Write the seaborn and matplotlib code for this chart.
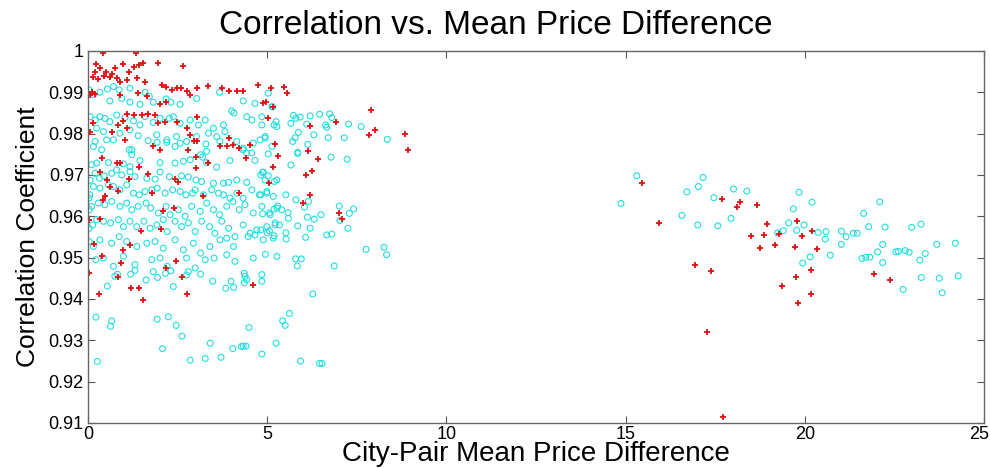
import pandas as pd
import matplotlib
matplotlib.use("Agg")
import matplotlib.pyplot as plt
import matplotlib.transforms as mtransforms
import seaborn as sns

# circles (cyan), small price differences
circles_top = [
    (0.03, 0.9906), (0.15, 0.9894), (0.33, 0.9900), (0.54, 0.9908), (0.71, 0.9914), (0.87, 0.9906),
    (1.17, 0.9910), (1.59, 0.9900), (1.71, 0.9890), (0.61, 0.9879), (0.94, 0.9885), (1.17, 0.9876),
    (1.45, 0.9871), (1.82, 0.9876), (2.18, 0.9884), (2.31, 0.9876), (2.57, 0.9871), (3.03, 0.9885),
    (3.67, 0.9900), (5.03, 0.9898), (4.33, 0.9879), (4.01, 0.9855), (4.07, 0.9850), (4.66, 0.9873),
    (5.15, 0.9865), (0.06, 0.9841), (0.20, 0.9833), (0.33, 0.9841), (0.47, 0.9837), (0.61, 0.9829),
    (0.80, 0.9845), (1.03, 0.9839), (1.27, 0.9831), (1.45, 0.9821), (1.59, 0.9841), (1.82, 0.9827),
    (2.01, 0.9837), (2.27, 0.9837), (2.38, 0.9841), (2.57, 0.9825), (2.85, 0.9833), (3.08, 0.9821),
    (3.27, 0.9833), (3.50, 0.9813), (3.78, 0.9821), (4.43, 0.9841), (4.57, 0.9833), (4.85, 0.9821),
    (0.24, 0.9813), (0.43, 0.9805), (0.71, 0.9785), (0.89, 0.9801), (1.17, 0.9809), (1.40, 0.9795),
    (1.68, 0.9783), (1.92, 0.9797), (2.20, 0.9785), (2.47, 0.9793), (2.75, 0.9781), (3.03, 0.9793),
    (3.36, 0.9801), (3.59, 0.9793), (3.82, 0.9805), (4.15, 0.9781), (4.33, 0.9765), (4.61, 0.9777),
    (4.94, 0.9793), (5.13, 0.9769), (0.15, 0.9769), (0.38, 0.9761), (1.22, 0.9761), (2.43, 0.9769),
    (3.31, 0.9757),
]

circles_mid = [
    (0.20, 0.9781), (0.52, 0.9785), (1.15, 0.9761), (1.22, 0.9749), (1.93, 0.9779), (2.20, 0.9779),
    (2.57, 0.9777), (3.29, 0.9775), (3.68, 0.9781), (4.43, 0.9753), (4.57, 0.9753), (4.80, 0.9785),
    (0.10, 0.9725), (0.24, 0.9729), (0.57, 0.9730), (0.99, 0.9727), (1.17, 0.9720), (1.45, 0.9735),
    (2.01, 0.9730), (2.43, 0.9729), (2.66, 0.9733), (2.85, 0.9737), (3.14, 0.9749), (3.20, 0.9743),
    (3.31, 0.9730), (3.59, 0.9719), (3.96, 0.9735), (4.32, 0.9761), (4.66, 0.9735), (5.03, 0.9751),
    (0.06, 0.9687), (0.20, 0.9704), (0.32, 0.9692), (0.45, 0.9698), (0.66, 0.9704), (0.80, 0.9712),
    (0.94, 0.9700), (1.17, 0.9708), (1.31, 0.9696), (1.64, 0.9692), (1.87, 0.9690), (2.01, 0.9707),
    (2.27, 0.9696), (2.61, 0.9698), (2.80, 0.9695), (3.01, 0.9688), (3.17, 0.9684), (3.50, 0.9680),
    (3.78, 0.9680), (3.92, 0.9682), (4.15, 0.9688), (4.43, 0.9682), (4.87, 0.9706), (4.94, 0.9688),
    (5.27, 0.9688), (0.15, 0.9672), (0.33, 0.9668), (0.57, 0.9676), (0.71, 0.9672), (0.89, 0.9664),
    (1.08, 0.9676), (1.27, 0.9656), (1.43, 0.9652), (1.59, 0.9660), (1.78, 0.9664), (1.93, 0.9668),
    (2.15, 0.9656), (2.36, 0.9664), (2.57, 0.9660), (2.73, 0.9652), (2.92, 0.9656), (2.99, 0.9664),
    (3.22, 0.9652), (3.45, 0.9664), (3.64, 0.9656), (3.78, 0.9652), (3.96, 0.9644), (4.15, 0.9656),
    (4.33, 0.9644), (4.57, 0.9664), (4.78, 0.9652), (4.99, 0.9660), (5.17, 0.9648), (0.03, 0.9644),
    (0.05, 0.9652), (0.04, 0.9616), (0.10, 0.9624), (0.29, 0.9632), (0.47, 0.9628), (0.66, 0.9636),
    (0.89, 0.9624), (1.08, 0.9632), (1.22, 0.9616), (1.40, 0.9624), (1.62, 0.9632), (1.75, 0.9620),
    (1.96, 0.9608), (2.18, 0.9624), (2.29, 0.9604), (2.52, 0.9616), (2.71, 0.9600), (2.89, 0.9624),
    (3.13, 0.9612), (3.31, 0.9632), (3.50, 0.9616), (3.67, 0.9604), (3.87, 0.9624), (4.04, 0.9636),
    (4.22, 0.9616), (4.38, 0.9628), (4.61, 0.9608), (4.85, 0.9624), (5.08, 0.9604), (5.27, 0.9620),
    (0.03, 0.9571), (0.13, 0.9579), (0.24, 0.9592), (0.43, 0.9588), (0.63, 0.9584), (0.85, 0.9592),
    (0.99, 0.9575), (1.17, 0.9588), (1.36, 0.9575), (1.56, 0.9588), (1.73, 0.9571), (1.92, 0.9579),
    (2.10, 0.9592), (2.21, 0.9563), (2.43, 0.9588), (2.61, 0.9575), (2.80, 0.9584), (2.99, 0.9563),
    (3.17, 0.9588), (3.39, 0.9575), (3.54, 0.9559), (3.73, 0.9588), (3.92, 0.9571), (4.10, 0.9551),
    (4.33, 0.9579), (4.52, 0.9559), (4.71, 0.9567), (4.99, 0.9575), (5.22, 0.9584), (0.03, 0.9539),
    (0.15, 0.9527), (0.33, 0.9543), (0.66, 0.9535), (0.87, 0.9551), (1.08, 0.9539), (1.36, 0.9527),
    (1.64, 0.9535), (1.87, 0.9539), (2.10, 0.9523), (2.43, 0.9543), (2.66, 0.9519), (2.94, 0.9535),
    (3.14, 0.9511), (3.40, 0.9527), (3.68, 0.9543), (3.87, 0.9547), (4.06, 0.9527), (4.47, 0.9551),
    (4.66, 0.9555), (4.89, 0.9543), (5.17, 0.9547), (0.22, 0.9495), (0.43, 0.9499), (0.71, 0.9479),
    (0.99, 0.9503), (1.31, 0.9483), (1.78, 0.9495), (2.01, 0.9499), (2.21, 0.9479), (2.75, 0.9499),
    (2.99, 0.9475), (3.27, 0.9495), (3.52, 0.9499), (3.87, 0.9507), (4.10, 0.9491), (4.38, 0.9455),
    (4.61, 0.9499), (4.85, 0.9459), (5.27, 0.9503),
]

circles_low = [
    (0.54, 0.9431), (0.75, 0.9455), (0.82, 0.9460), (1.19, 0.9460), (1.31, 0.9469), (1.62, 0.9446),
    (1.82, 0.9466), (1.94, 0.9452), (2.16, 0.9462), (2.31, 0.9468), (2.38, 0.9430), (2.75, 0.9458),
    (2.80, 0.9466), (3.14, 0.9460), (3.48, 0.9443), (3.84, 0.9426), (4.06, 0.9428), (3.99, 0.9443),
    (4.36, 0.9462), (4.43, 0.9447), (4.36, 0.9439), (4.85, 0.9443), (0.22, 0.9356), (0.66, 0.9347),
    (0.63, 0.9334), (1.93, 0.9351), (2.24, 0.9357), (2.46, 0.9336), (2.62, 0.9310), (4.49, 0.9331),
    (0.26, 0.9249), (2.08, 0.9280), (2.85, 0.9252), (3.27, 0.9256), (3.41, 0.9293), (3.71, 0.9259),
    (4.04, 0.9280), (4.28, 0.9285), (4.33, 0.9286), (4.41, 0.9286), (4.85, 0.9267), (5.25, 0.9293),
]

circles_5to9 = [
    (5.13, 0.9865), (4.85, 0.9841), (5.73, 0.9844), (5.92, 0.9840), (5.80, 0.9837), (6.20, 0.9843),
    (6.46, 0.9847), (6.74, 0.9848), (6.80, 0.9839), (5.25, 0.9829), (5.19, 0.9821), (5.27, 0.9817),
    (5.66, 0.9825), (6.10, 0.9823), (6.63, 0.9821), (6.66, 0.9815), (7.27, 0.9823), (7.62, 0.9817),
    (5.87, 0.9803), (5.78, 0.9790), (5.71, 0.9781), (4.94, 0.9789), (6.30, 0.9797), (6.70, 0.9790),
    (7.15, 0.9790), (8.35, 0.9786), (6.13, 0.9774), (5.85, 0.9755),
    (5.85, 0.9752), (6.78, 0.9743), (7.23, 0.9738), (5.66, 0.9724), (4.89, 0.9707), (5.03, 0.9698),
    (4.82, 0.9700), (5.20, 0.9684), (4.82, 0.9652), (4.99, 0.9656), (5.52, 0.9652), (5.80, 0.9640),
    (6.15, 0.9636), (5.29, 0.9625), (5.19, 0.9617), (5.40, 0.9616), (5.58, 0.9609), (6.04, 0.9622),
    (6.50, 0.9604), (6.12, 0.9598), (6.31, 0.9593), (7.01, 0.9625), (7.29, 0.9607), (7.41, 0.9618),
    (7.03, 0.9590), (4.87, 0.9606), (5.06, 0.9608), (5.59, 0.9595), (5.22, 0.9579), (5.34, 0.9579),
    (5.85, 0.9577), (6.20, 0.9571), (7.25, 0.9571), (4.82, 0.9567), (5.06, 0.9565), (5.00, 0.9560),
    (5.19, 0.9553), (5.52, 0.9560), (5.53, 0.9545), (6.07, 0.9549), (6.66, 0.9555), (6.80, 0.9557),
    (7.76, 0.9520), (8.26, 0.9525), (8.33, 0.9507), (4.95, 0.9508), (5.79, 0.9497), (5.95, 0.9497),
    (5.84, 0.9480), (6.87, 0.9480), (6.27, 0.9412), (5.62, 0.9365), (5.43, 0.9347), (5.50, 0.9336),
    (5.93, 0.9250), (6.46, 0.9244), (6.53, 0.9244),
]

circles_far = [
    (15.31, 0.9698), (14.87, 0.9631), (16.71, 0.9659), (17.03, 0.9672), (17.16, 0.9694), (16.57, 0.9602),
    (17.01, 0.9579), (17.46, 0.9645), (17.57, 0.9577), (18.01, 0.9666), (18.38, 0.9661), (17.94, 0.9595),
    (19.84, 0.9658), (20.20, 0.9634), (19.68, 0.9618), (19.55, 0.9584), (19.24, 0.9560), (19.40, 0.9565),
    (19.77, 0.9566), (19.98, 0.9579), (20.37, 0.9561), (20.59, 0.9563), (20.57, 0.9545), (21.02, 0.9564),
    (21.15, 0.9551), (21.35, 0.9559), (21.46, 0.9559), (21.02, 0.9532), (20.71, 0.9506), (20.15, 0.9502),
    (19.94, 0.9487), (21.64, 0.9607), (22.09, 0.9635), (21.78, 0.9575), (22.24, 0.9574), (22.98, 0.9573),
    (23.24, 0.9581), (22.17, 0.9532), (22.03, 0.9514), (21.59, 0.9498), (21.70, 0.9501), (21.81, 0.9501),
    (22.17, 0.9488), (22.54, 0.9514), (22.61, 0.9515), (22.80, 0.9517), (22.91, 0.9513), (23.36, 0.9510),
    (23.21, 0.9494), (23.68, 0.9532), (24.20, 0.9535), (23.25, 0.9452), (23.75, 0.9450), (24.28, 0.9456),
    (22.74, 0.9423), (23.83, 0.9415),
]

# plus markers (red)
plus_top = [
    (0.43, 0.9996), (1.33, 0.9996), (0.22, 0.9968), (0.33, 0.9958), (0.20, 0.9948), (0.50, 0.9950),
    (0.66, 0.9944), (0.75, 0.9958), (0.45, 0.9940), (0.60, 0.9938), (0.99, 0.9968), (1.13, 0.9950),
    (1.28, 0.9962), (1.41, 0.9966), (1.54, 0.9970), (1.96, 0.9972), (2.64, 0.9964), (0.15, 0.9936),
    (0.29, 0.9932), (0.80, 0.9934), (0.89, 0.9926), (1.08, 0.9930), (1.38, 0.9934), (1.60, 0.9926),
    (0.10, 0.9900), (0.20, 0.9897), (0.06, 0.9894), (2.06, 0.9918), (2.18, 0.9913), (2.33, 0.9906),
    (2.47, 0.9910), (2.59, 0.9911), (2.75, 0.9903), (2.85, 0.9894), (3.05, 0.9911), (3.36, 0.9916),
    (3.73, 0.9911), (3.92, 0.9903), (4.15, 0.9903), (4.33, 0.9902), (4.75, 0.9918), (0.89, 0.9894),
    (1.40, 0.9898), (1.64, 0.9890), (2.01, 0.9871), (2.18, 0.9876), (5.17, 0.9865), (1.08, 0.9847),
    (1.27, 0.9845), (1.50, 0.9845), (1.68, 0.9847), (1.87, 0.9845), (0.99, 0.9831), (0.15, 0.9825),
    (0.85, 0.9821), (1.08, 0.9813), (0.66, 0.9805), (1.03, 0.9785), (1.96, 0.9825), (2.15, 0.9829),
    (2.47, 0.9829), (3.03, 0.9841), (2.75, 0.9813), (2.85, 0.9797), (3.03, 0.9781), (3.92, 0.9789),
    (3.68, 0.9769), (4.52, 0.9773), (0.06, 0.9805),
]

plus_mid = [
    (1.80, 0.9770), (2.00, 0.9761), (2.80, 0.9761), (2.96, 0.9781), (3.87, 0.9770), (4.04, 0.9773),
    (4.22, 0.9765), (4.41, 0.9740), (5.21, 0.9775), (0.38, 0.9740), (0.82, 0.9730), (0.89, 0.9730),
    (1.43, 0.9720), (1.66, 0.9703), (3.01, 0.9716), (3.01, 0.9743), (3.35, 0.9730), (5.15, 0.9720),
    (0.33, 0.9707), (0.52, 0.9688), (0.60, 0.9672), (1.13, 0.9690), (0.83, 0.9661), (2.43, 0.9690),
    (2.52, 0.9683), (4.22, 0.9657), (5.06, 0.9680), (0.47, 0.9649), (0.41, 0.9640), (1.78, 0.9656),
    (3.20, 0.9648), (2.08, 0.9613), (2.41, 0.9619), (0.04, 0.9591), (0.33, 0.9594), (1.47, 0.9565),
    (2.03, 0.9569), (0.17, 0.9533), (1.17, 0.9531), (0.97, 0.9519), (0.38, 0.9504), (0.91, 0.9488),
    (2.46, 0.9493), (2.18, 0.9474), (0.85, 0.9454), (2.61, 0.9454), (0.03, 0.9462), (0.32, 0.9411),
    (1.19, 0.9426), (1.43, 0.9426), (1.54, 0.9397), (2.75, 0.9412), (4.61, 0.9435),
    (5.11, 0.9911), (5.48, 0.9913), (5.54, 0.9899), (4.87, 0.9873), (4.97, 0.9876), (5.03, 0.9837),
    (7.90, 0.9857), (6.92, 0.9829), (6.20, 0.9819), (8.01, 0.9809), (7.85, 0.9797), (8.85, 0.9799),
    (8.94, 0.9760), (6.15, 0.9759), (5.31, 0.9746), (6.43, 0.9738), (6.24, 0.9710), (6.07, 0.9699),
    (6.18, 0.9651), (6.01, 0.9633), (7.01, 0.9607), (7.09, 0.9593),
]

plus_far = [
    (15.46, 0.9680), (15.92, 0.9583), (17.68, 0.9642), (18.20, 0.9635), (18.12, 0.9622), (18.66, 0.9627),
    (18.95, 0.9581), (18.51, 0.9552), (18.87, 0.9555), (19.29, 0.9556), (19.79, 0.9588), (20.20, 0.9565),
    (19.92, 0.9552), (19.18, 0.9531), (18.75, 0.9523), (19.73, 0.9525), (20.35, 0.9521), (16.93, 0.9481),
    (17.37, 0.9468), (19.74, 0.9453), (20.17, 0.9469), (19.37, 0.9431), (20.17, 0.9413), (21.92, 0.9460),
    (22.37, 0.9446), (19.81, 0.9390), (17.28, 0.9320), (17.72, 0.9114),
]

xticks = [0, 5, 10, 15, 20, 25]
yticks = [0.91, 0.92, 0.93, 0.94, 0.95, 0.96, 0.97, 0.98, 0.99, 1.0]
ytick_labels = ["0.91", "0.92", "0.93", "0.94", "0.95", "0.96", "0.97", "0.98", "0.99", "1"]

circles = pd.DataFrame(circles_top + circles_mid + circles_low + circles_5to9 + circles_far,
                       columns=["diff", "corr"])
pluses = pd.DataFrame(plus_top + plus_mid + plus_far, columns=["diff", "corr"])

sns.set_style("ticks", {"xtick.direction": "in", "ytick.direction": "in"})
plt.rcParams["font.family"] = ["Liberation Sans", "DejaVu Sans"]
plt.rcParams["text.color"] = "black"
plt.rcParams["axes.labelcolor"] = "black"
plt.rcParams["xtick.labelcolor"] = "black"
plt.rcParams["ytick.labelcolor"] = "black"

fig = plt.figure(figsize=(9.9, 4.68), dpi=100)
ax = fig.add_axes([0.0889, 0.0962, 0.9051, 0.7949])

sns.scatterplot(data=circles, x="diff", y="corr", ax=ax, marker="o", s=18,
                facecolor="none", edgecolor="#22dede", linewidth=0.8)
sns.scatterplot(data=pluses, x="diff", y="corr", ax=ax, marker="+", s=20,
                color="#e01010", linewidth=1.3)

ax.set_xlim(0, 25)
ax.set_ylim(0.91, 1.0)
ax.set_xticks(xticks)
ax.set_yticks(yticks)
ax.set_yticklabels(ytick_labels)
ax.tick_params(axis="both", which="both", direction="in", length=5, width=0.8,
               top=True, right=True, labelsize=13, color="#555555", pad=3)
ax.tick_params(axis="x", pad=2)
for sp in ax.spines.values():
    sp.set_color("#666666")
    sp.set_linewidth(1.0)

# keep the last x label inside the canvas, as in the original
last = ax.get_xticklabels()[-1]
last.set_transform(last.get_transform() + mtransforms.ScaledTranslation(-5 / 100, 0, fig.dpi_scale_trans))

# title sits a bit left of the axes centre in the original
ax.set_title("Correlation vs. Mean Price Difference", fontsize=24, pad=12, x=0.455)
ax.set_xlabel("City-Pair Mean Price Difference", fontsize=20, labelpad=-1)
ax.set_ylabel("Correlation Coefficient", fontsize=19, labelpad=6)

fig.savefig("out.png", dpi=100)
